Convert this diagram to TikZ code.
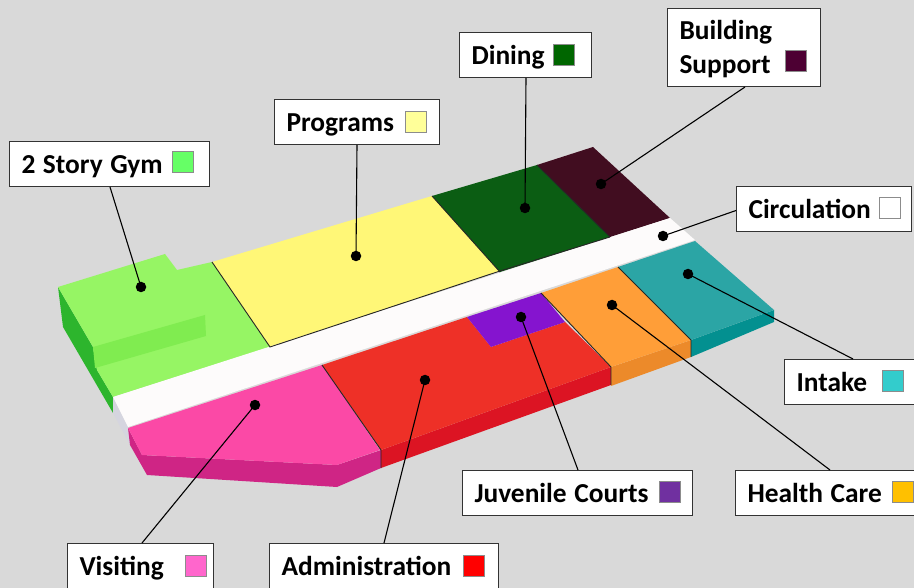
\documentclass[tikz,border=0pt]{standalone}
\usepackage{fontspec}
\setmainfont{Carlito}
\usetikzlibrary{calc}
\newcommand{\tightsp}{\spaceskip=7.6pt\relax}
\definecolor{bg}{HTML}{D9D9D9}
\definecolor{gymS}{HTML}{2DB52D}\definecolor{gymT}{HTML}{96F564}\definecolor{gymB}{HTML}{80EC50}
\definecolor{circS}{HTML}{D5D5DF}\definecolor{circT}{HTML}{FDFBFB}
\definecolor{visS}{HTML}{CF2585}\definecolor{visT}{HTML}{FB49A6}
\definecolor{admS}{HTML}{DC1423}\definecolor{admT}{HTML}{EE3027}
\definecolor{heaS}{HTML}{EC8A2A}\definecolor{heaT}{HTML}{FF9E38}
\definecolor{intS}{HTML}{039090}\definecolor{intT}{HTML}{2BA5A5}
\definecolor{proT}{HTML}{FFF777}\definecolor{dinT}{HTML}{0B5D13}\definecolor{bldT}{HTML}{410D20}\definecolor{juvT}{HTML}{8514CF}
\definecolor{swGym}{HTML}{66FF66}\definecolor{swPro}{HTML}{FFFF99}\definecolor{swDin}{HTML}{006600}\definecolor{swBld}{HTML}{4D0033}
\definecolor{swInt}{HTML}{33CCCC}\definecolor{swHea}{HTML}{FFC000}\definecolor{swJuv}{HTML}{7030A0}\definecolor{swAdm}{HTML}{FF0000}\definecolor{swVis}{HTML}{FF66CC}
\tikzset{
 x=1pt,y=-1pt,
 lab/.style={draw=black!80,line width=1pt,fill=white,font=\bfseries\fontsize{27.4}{34}\selectfont,align=left,anchor=north west,inner xsep=12pt,inner ysep=0pt,text height=24pt,text depth=5pt},
 swatch/.style={draw=black!45,line width=0.5pt,minimum size=21pt,inner sep=0pt},
 dot/.style={circle,fill=black,minimum size=10.5pt,inner sep=0pt},
 conn/.style={draw=black,line width=1.1pt},
 seam/.style={draw=black!85,line width=0.9pt}
}
\begin{document}
\begin{tikzpicture}
\useasboundingbox (0,0) rectangle (914,588);
\fill[bg] (0,0) rectangle (914,588);
% sides
\fill[gymS] (58,287) -- (93,347) -- (97,370) -- (113,397) -- (113,413) -- (63,327) -- cycle;
\fill[circS] (113,397) -- (128,427) -- (130,445) -- (113,413) -- cycle;
\fill[visS] (128,428) -- (142,455) -- (337,465) -- (381,450) -- (381,468) -- (337,487) -- (147,475) -- (130,445) -- cycle;
\fill[admS] (381,450) -- (611,367) -- (611,385) -- (381,468) -- cycle;
\fill[heaS] (611,367) -- (691,340) -- (691,357) -- (611,386) -- cycle;
\fill[intS] (691,340) -- (774,310) -- (774,322) -- (691,357) -- cycle;
% tops
\fill[gymT] (58,287) -- (165,254) -- (177,270) -- (212,262) -- (270,347) -- (113,397) -- (97,370) -- (93,347) -- cycle;
\fill[gymB] (93,347) -- (205,315) -- (206,336) -- (95,368) -- cycle;
\fill[proT] (212,262) -- (432,196) -- (500,271) -- (270,347) -- cycle;
\fill[dinT] (432,196) -- (537,165) -- (610,237) -- (500,272) -- cycle;
\fill[bldT] (537,165) -- (593,147) -- (670,218) -- (610,237) -- cycle;
\fill[circT] (113,397) -- (670,218) -- (695,240) -- (128,427) -- cycle;
\fill[visT] (128,428) -- (322,365) -- (380,450) -- (337,465) -- (142,455) -- cycle;
\fill[admT] (322,365) -- (467,317) -- (491,347) -- (565,322) -- (611,367) -- (381,450) -- cycle;
\fill[juvT] (467,317) -- (541,293) -- (565,322) -- (491,347) -- cycle;
\fill[heaT] (541,293) -- (618,267) -- (691,340) -- (611,367) -- cycle;
\fill[intT] (618,267) -- (695,241) -- (774,310) -- (691,340) -- cycle;
% seams
\draw[seam] (212,262) -- (270,347) -- (500,271) -- (610,237);
\draw[seam] (432,196) -- (500,272);
\draw[seam] (537,165) -- (610,237);
\draw[seam] (322,365) -- (381,450) -- (381,468);
\draw[seam] (541,293) -- (611,367) -- (611,385);
\draw[seam] (618,267) -- (691,340) -- (691,357);
% labels
\node[lab,minimum height=45pt,minimum width=200pt,text width=176pt] (gym) at (9,141) {\tightsp 2 Story Gym};
\node[lab,minimum height=45pt,minimum width=165pt,text width=141pt] (pro) at (274,99) {Programs};
\node[lab,minimum height=45pt,minimum width=132pt,text width=108pt] (din) at (459,32) {Dining};
\node[lab,minimum height=78pt,minimum width=153pt,text width=129pt,text height=,text depth=] (bld) at (667,8) {\rule{0pt}{22pt}Building\\Support};
\node[lab,minimum height=45pt,minimum width=175pt,text width=151pt] (cir) at (736,186.5) {Circulation};
\node[lab,minimum height=45pt,minimum width=160pt,text width=136pt] (int) at (784,359) {Intake};
\node[lab,minimum height=45pt,minimum width=200pt,text width=176pt] (hea) at (735,470) {\tightsp Health Care};
\node[lab,minimum height=45pt,minimum width=230pt,text width=206pt] (juv) at (462,470) {\tightsp Juvenile Courts};
\node[lab,minimum height=52pt,minimum width=229pt,text width=205pt,text depth=12pt] (adm) at (269,543) {Administration};
\node[lab,minimum height=52pt,minimum width=146pt,text width=122pt,text depth=12pt] (vis) at (67,543) {Visiting};
% swatches
\node[swatch,fill=swGym] (sgym) at (182.5,162) {};
\node[swatch,fill=swPro] (spro) at (416,121.5) {};
\node[swatch,fill=swDin] (sdin) at (564,54.5) {};
\node[swatch,fill=swBld] (sbld) at (795.5,60.5) {};
\node[swatch,fill=white] (scir) at (890,208) {};
\node[swatch,fill=swInt] (sint) at (893,381) {};
\node[swatch,fill=swHea] (shea) at (902.5,492) {};
\node[swatch,fill=swJuv] (sjuv) at (670,491.5) {};
\node[swatch,fill=swAdm] (sadm) at (474,565.5) {};
\node[swatch,fill=swVis] (svis) at (196,565.5) {};
% dots
\node[dot] (dgym) at (141,287) {};
\node[dot] (dpro) at (356,256) {};
\node[dot] (ddin) at (525,208) {};
\node[dot] (dbld) at (601,184) {};
\node[dot] (dcir) at (663,236) {};
\node[dot] (dint) at (688,274) {};
\node[dot] (dhea) at (612,305) {};
\node[dot] (djuv) at (521,317) {};
\node[dot] (dadm) at (425,380) {};
\node[dot] (dvis) at (255,405) {};
% connectors
\draw[conn] (dgym.center) -- ([xshift=101pt]gym.south west);
\draw[conn] (dpro.center) -- ([xshift=83pt]pro.south west);
\draw[conn] (ddin.center) -- ([xshift=67pt]din.south west);
\draw[conn] (dbld.center) -- ([xshift=78pt]bld.south west);
\draw[conn] (dcir.center) -- ([yshift=-1pt]cir.west);
\draw[conn] (dint.center) -- ([xshift=69pt]int.north west);
\draw[conn] (dhea.center) -- ([xshift=95pt]hea.north west);
\draw[conn] (djuv.center) -- ([xshift=116pt]juv.north west);
\draw[conn] (dadm.center) -- ([xshift=115pt]adm.north west);
\draw[conn] (dvis.center) -- ([xshift=75pt]vis.north west);
\end{tikzpicture}
\end{document}
